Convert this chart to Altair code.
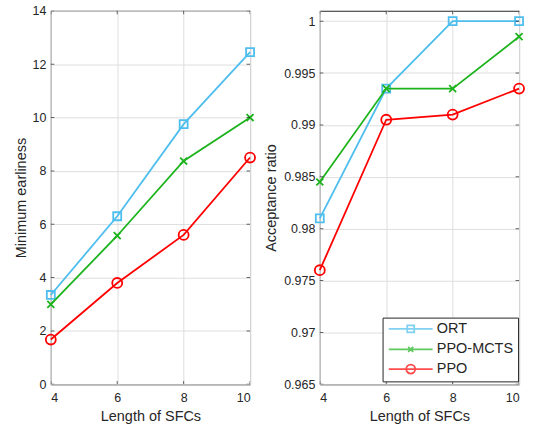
import altair as alt
import pandas as pd

# ---------------- data ----------------
lengths = [4, 6, 8, 10]
series_names = ["ORT", "PPO-MCTS", "PPO"]
series_colors = ["#4DBEEE", "#1DB31D", "#FF0000"]

earliness_ort = [3.35, 6.3, 9.75, 12.45]
earliness_mcts = [3.0, 5.57, 8.37, 10.0]
earliness_ppo = [1.68, 3.8, 5.6, 8.5]

accept_ort = [0.981, 0.9935, 1.0, 1.0]
accept_mcts = [0.9845, 0.9935, 0.9935, 0.9985]
accept_ppo = [0.976, 0.9905, 0.991, 0.9935]

x_ticks = [4, 6, 8, 10]
earliness_ticks = [0, 2, 4, 6, 8, 10, 12, 14]
accept_ticks = [0.965, 0.97, 0.975, 0.98, 0.985, 0.99, 0.995, 1.0]

FONT = "Liberation Sans"
INK = "#262626"

# marker shapes for the plot
marker_shapes = [
    ("square", 64),
    ("M-1,-1L1,1M-1,1L1,-1", 49),
    ("circle", 100),
]
# legend symbols: line + marker (unit = 5 px with symbolSize 100)
legend_paths = [
    "M-1,0H7.8M2.7,-0.7H4.1V0.7H2.7Z",
    "M-1,0H7.8M2.9,-0.5L3.9,0.5M2.9,0.5L3.9,-0.5",
    "M-1,0H7.8M4.3,0A0.9,0.9 0 1,1 2.5,0A0.9,0.9 0 1,1 4.3,0",
]


def make_df(vals):
    rows = []
    for name, v in zip(series_names, vals):
        for x, y in zip(lengths, v):
            rows.append({"length": x, "series": name, "value": y})
    return pd.DataFrame(rows)


def panel(df, ydom, yticks, ytitle, yfmt, ytitle_pad, show_legend):
    xscale = alt.Scale(domain=[4, 10], nice=False, zero=False)
    yscale = alt.Scale(domain=ydom, nice=False, zero=False)

    xaxis = alt.Axis(values=x_ticks, title="Length of SFCs", grid=True, ticks=False,
                     domain=False, labelPadding=7, titlePadding=6, format="d")
    yaxis = alt.Axis(values=yticks, title=ytitle, grid=True, ticks=False,
                     domain=False, labelPadding=5, titlePadding=ytitle_pad, format=yfmt)

    base = alt.Chart(df)
    enc = dict(
        x=alt.X("length:Q", scale=xscale, axis=xaxis),
        y=alt.Y("value:Q", scale=yscale, axis=yaxis),
    )
    layers = []
    for name, col, (shp, sz) in zip(series_names, series_colors, marker_shapes):
        sub = base.transform_filter(alt.datum.series == name)
        layers.append(sub.mark_line(strokeWidth=1.8, color=col).encode(**enc))
        layers.append(
            sub.mark_point(filled=False, shape=shp, size=sz, strokeWidth=1.8,
                           opacity=1, color=col).encode(**enc)
        )

    # inward tick marks on all four sides
    xt = pd.DataFrame({"t": x_ticks})
    yt = pd.DataFrame({"t": yticks})
    for yv in ydom:
        layers.append(
            alt.Chart(xt).mark_tick(orient="vertical", size=7, thickness=1, color=INK, clip=True)
            .encode(x=alt.X("t:Q", scale=xscale, axis=xaxis),
                    y=alt.YDatum(yv, scale=yscale, axis=yaxis))
        )
    for xv in [4, 10]:
        layers.append(
            alt.Chart(yt).mark_tick(orient="horizontal", size=7, thickness=1, color=INK, clip=True)
            .encode(y=alt.Y("t:Q", scale=yscale, axis=yaxis),
                    x=alt.XDatum(xv, scale=xscale, axis=xaxis))
        )

    if show_legend:
        leg = alt.Legend(
            title=None, orient="none", legendX=63, legendY=308,
            strokeColor=INK, fillColor="white", padding=4, cornerRadius=0,
            symbolSize=100, symbolStrokeWidth=1.8, symbolFillColor="transparent",
            labelFont=FONT, labelFontSize=14.5, labelColor=INK, labelOffset=36,
            rowPadding=4.7,
        )
        layers.append(
            base.transform_filter("false")
            .mark_point(filled=False, strokeWidth=1.8)
            .encode(
                stroke=alt.Stroke("series:N", scale=alt.Scale(domain=series_names, range=series_colors), legend=leg),
                shape=alt.Shape("series:N", scale=alt.Scale(domain=series_names, range=legend_paths), legend=leg),
                **enc,
            )
        )

    return alt.layer(*layers).properties(width=200, height=375)


left = panel(make_df([earliness_ort, earliness_mcts, earliness_ppo]),
             [0, 14], earliness_ticks, "Minimum earliness", "d", 3, False)
right = panel(make_df([accept_ort, accept_mcts, accept_ppo]),
              [0.965, 1.001], accept_ticks, "Acceptance ratio", ".3~f", 5, True)

chart = (
    alt.hconcat(left, right, spacing=70, bounds="flush")
    .resolve_legend(stroke="independent", shape="independent")
    .properties(padding={"left": 13, "top": 3, "right": 5, "bottom": 5}, background="white")
    .configure_view(stroke=INK, strokeWidth=1)
    .configure_axis(
        labelFont=FONT, titleFont=FONT, labelFontSize=12.5, titleFontSize=14.5,
        labelColor=INK, titleColor=INK, titleFontWeight="normal",
        gridColor="#dedede", gridWidth=1,
    )
)

chart.save("out.html", embed_options={"renderer": "svg", "actions": False})
